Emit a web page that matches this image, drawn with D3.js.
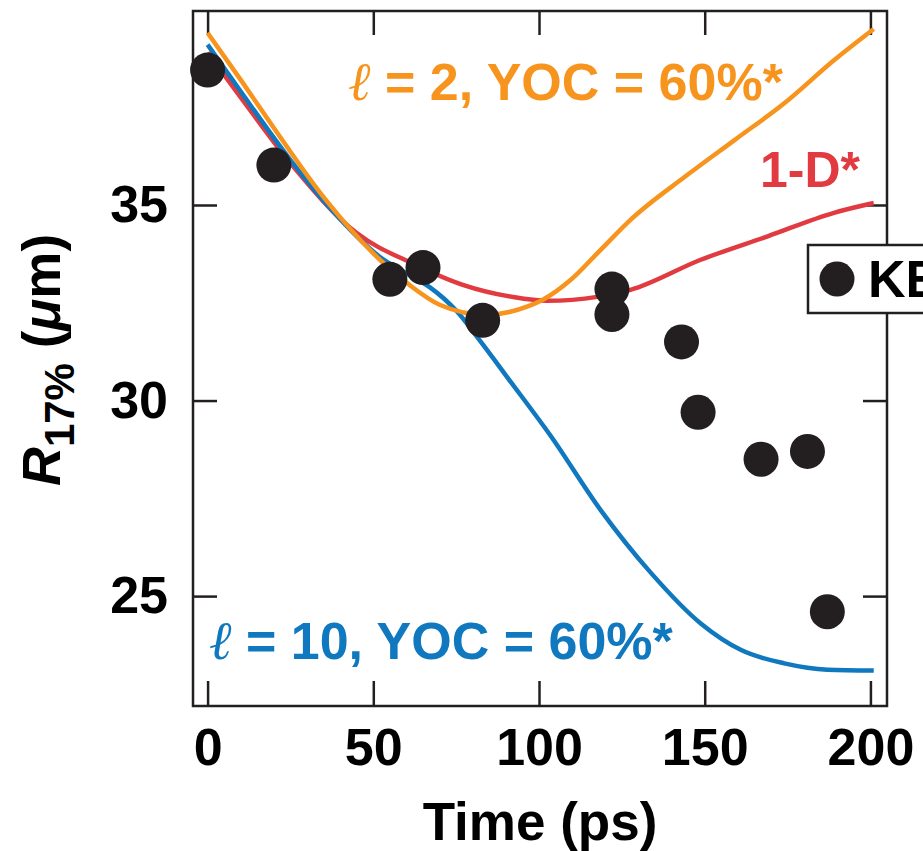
<!DOCTYPE html>
<html>
<head>
<meta charset="utf-8">
<script src="https://cdn.jsdelivr.net/npm/d3@7"></script>
<style>
  body { margin: 0; background: #fff; overflow: hidden; }
  svg { display: block; }
  .tickLbl text { font-family: "Liberation Sans", Arial, sans-serif; font-weight: bold; font-size: 52px; fill: #000; }
  .lbl { font-family: "Liberation Sans", Arial, sans-serif; font-weight: bold; }
  .ell { font-family: "DejaVu Serif", serif; font-style: italic; font-weight: normal; }
</style>
</head>
<body>
<div id="chartHolder"></div>
<script>
// measured points (time in ps, radius in um)
const dataTime = [0, 20, 55, 65, 83, 122, 122, 143, 148, 167, 181, 187];
const dataR    = [38.45, 36.02, 33.1, 33.4, 32.05, 32.85, 32.2, 31.5, 29.7, 28.5, 28.7, 24.6];

// simulation curves
const orangeTime = [0, 10, 20, 35, 52, 61, 70, 84, 97, 101, 109.5, 118, 128, 144, 159, 174, 189, 201];
const orangeR    = [39.4, 38.2, 36.97, 35.2, 33.6, 32.95, 32.45, 32.19, 32.42, 32.57, 33.08, 33.8, 34.65, 35.72, 36.66, 37.6, 38.7, 39.5];

const redTime = [0, 10, 25, 45, 62, 77, 92, 102.5, 117.6, 127.6, 148.8, 169, 189, 201];
const redR    = [38.9, 37.75, 36.07, 34.28, 33.5, 32.96, 32.65, 32.55, 32.65, 32.83, 33.6, 34.2, 34.8, 35.05];

const blueTime = [0, 10, 25, 37, 52, 60, 67, 75, 82, 91, 103.5, 118.6, 133.7, 148.8, 161, 174, 187, 201];
const blueR    = [39.1, 37.9, 36.15, 34.92, 33.67, 33.25, 32.9, 32.3, 31.55, 30.53, 29.1, 27.2, 25.6, 24.3, 23.62, 23.28, 23.12, 23.1];

const xTicks = [0, 50, 100, 150, 200];
const yTicks = [25, 30, 35];

const w = 923, h = 851;
const padL = 193, padR = 887, padT = 11, padB = 706;
const ink = "#231f20";

const svg = d3.select("#chartHolder").append("svg")
  .attr("width", w)
  .attr("height", h);

const x = d3.scaleLinear().domain([-4.4, 205]).range([padL, padR]);
const y = d3.scaleLinear().domain([22.19, 39.96]).range([padB, padT]);

// axes with inward ticks
const xAxisB = svg.append("g")
  .attr("class", "tickLbl")
  .attr("transform", "translate(0," + padB + ")")
  .call(d3.axisBottom(x).tickValues(xTicks).tickSize(-25).tickPadding(22));
const xAxisT = svg.append("g")
  .attr("transform", "translate(0," + padT + ")")
  .call(d3.axisTop(x).tickValues(xTicks).tickSize(-24).tickFormat(""));
const yAxisL = svg.append("g")
  .attr("class", "tickLbl")
  .attr("transform", "translate(" + padL + ",0)")
  .call(d3.axisLeft(y).tickValues(yTicks).tickSize(-24).tickPadding(25));
const yAxisR = svg.append("g")
  .attr("transform", "translate(" + padR + ",0)")
  .call(d3.axisRight(y).tickValues(yTicks).tickSize(-24).tickFormat(""));

[xAxisB, xAxisT, yAxisL, yAxisR].forEach(g => {
  g.select(".domain").remove();
  g.selectAll("line").attr("stroke", ink).attr("stroke-width", 2.5);
  g.selectAll("text").attr("fill", "#000");
});

// frame
svg.append("rect")
  .attr("x", padL).attr("y", padT)
  .attr("width", padR - padL).attr("height", padB - padT)
  .attr("fill", "none").attr("stroke", ink).attr("stroke-width", 2.5);

const line = d3.line()
  .x(d => x(d[0]))
  .y(d => y(d[1]))
  .curve(d3.curveMonotoneX);

const curves = [
  {t: redTime, r: redR, c: "#e13a40"},
  {t: blueTime, r: blueR, c: "#0f78be"},
  {t: orangeTime, r: orangeR, c: "#f7941e"}
];
curves.forEach(cv => {
  svg.append("path")
    .datum(d3.zip(cv.t, cv.r))
    .attr("d", line)
    .attr("fill", "none")
    .attr("stroke", cv.c)
    .attr("stroke-width", 4.5)
    .attr("stroke-linecap", "butt");
});

// data points
svg.selectAll(".pt")
  .data(d3.zip(dataTime, dataR))
  .enter()
  .append("circle")
  .attr("class", "pt")
  .attr("cx", d => x(d[0]))
  .attr("cy", d => y(d[1]))
  .attr("r", 17.5)
  .attr("fill", ink);

// curve labels
function ellLabel(tx, ty, rest, color) {
  const t = svg.append("text")
    .attr("x", tx).attr("y", ty)
    .attr("fill", color)
    .attr("font-size", 52);
  t.append("tspan").attr("class", "ell").attr("font-size", 54).text("ℓ");
  t.append("tspan").attr("class", "lbl").text(" = " + rest);
}
ellLabel(348, 100, "2, YOC = 60%*", "#f7941e");
ellLabel(209, 659, "10, YOC = 60%*", "#0f78be");

svg.append("text")
  .attr("class", "lbl")
  .attr("x", 760).attr("y", 187)
  .attr("font-size", 50)
  .attr("fill", "#e13a40")
  .text("1-D*");

// legend box (runs off the right edge, as in the original)
svg.append("rect")
  .attr("x", 808).attr("y", 245)
  .attr("width", 200).attr("height", 68)
  .attr("fill", "#fff").attr("stroke", ink).attr("stroke-width", 2.5);
svg.append("circle")
  .attr("cx", 837).attr("cy", 279).attr("r", 17.5).attr("fill", ink);
svg.append("text")
  .attr("class", "lbl")
  .attr("x", 868).attr("y", 297)
  .attr("font-size", 52)
  .attr("fill", "#000")
  .text("KE");

// axis titles
svg.append("text")
  .attr("class", "lbl")
  .attr("text-anchor", "middle")
  .attr("x", 540).attr("y", 840)
  .attr("font-size", 53)
  .text("Time (ps)");

const yt = svg.append("text")
  .attr("class", "lbl")
  .attr("text-anchor", "middle")
  .attr("transform", "translate(60,360)rotate(-90)")
  .attr("font-size", 53);
yt.append("tspan").attr("font-style", "italic").attr("font-size", 54).text("R");
yt.append("tspan").attr("font-size", 42).attr("dy", 14).text("17%");
yt.append("tspan").attr("dy", -14).text(" (");
yt.append("tspan").attr("font-style", "italic").text("μ");
yt.append("tspan").text("m)");
</script>
</body>
</html>
